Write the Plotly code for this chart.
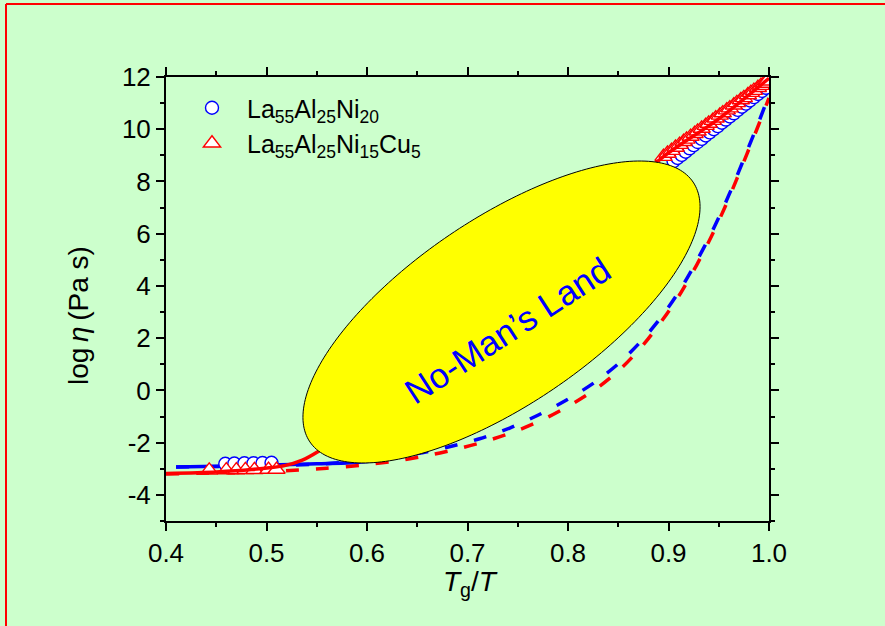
import numpy as np
import plotly.graph_objects as go

# ---------------- data ----------------
# La55Al25Ni20 measured viscosities (open circles)
ni20_x = [0.459, 0.468, 0.478, 0.487, 0.496, 0.505,
          0.905, 0.909, 0.913, 0.917, 0.921, 0.925, 0.929, 0.933, 0.937, 0.941,
          0.945, 0.949, 0.953, 0.957, 0.961, 0.965, 0.969, 0.973, 0.977, 0.981,
          0.985, 0.989, 0.993, 0.997]
ni20_y = [-2.81, -2.80, -2.79, -2.79, -2.78, -2.77,
          8.78, 8.90, 9.02, 9.14, 9.27, 9.39, 9.51, 9.63, 9.76, 9.88,
          10.00, 10.12, 10.25, 10.37, 10.49, 10.61, 10.74, 10.86, 10.98, 11.10,
          11.23, 11.35, 11.47, 11.59]

# La55Al25Ni15Cu5 measured viscosities (open triangles)
cu5_x = [0.443, 0.460, 0.470, 0.479, 0.488, 0.502, 0.510,
         0.895, 0.899, 0.903, 0.907, 0.911, 0.915, 0.918, 0.922, 0.926, 0.929,
         0.933, 0.937, 0.940, 0.944, 0.947, 0.951, 0.954, 0.958, 0.961, 0.965,
         0.968, 0.972, 0.975, 0.979, 0.982, 0.985, 0.989, 0.992, 0.995, 0.998]
cu5_y = [-3.06, -3.05, -3.05, -3.04, -3.04, -3.03, -3.03,
         8.95, 9.07, 9.18, 9.30, 9.41, 9.52, 9.61, 9.72, 9.83, 9.92,
         10.03, 10.14, 10.22, 10.33, 10.42, 10.53, 10.62, 10.73, 10.81, 10.92,
         11.01, 11.12, 11.20, 11.31, 11.40, 11.48, 11.59, 11.67, 11.75, 11.84]

# solid fit curves
ni20_fit_x = [0.41, 0.45, 0.50, 0.55, 0.60, 0.65, 0.70, 0.75, 0.80, 0.85, 0.88, 0.905, 0.93, 0.96, 1.0]
ni20_fit_y = [-2.93, -2.90, -2.86, -2.81, -2.72, -2.30, -1.20, 0.60, 3.00, 5.70, 7.30, 8.65, 9.45, 10.45, 11.95]
cu5_fit_x = [0.40, 0.45, 0.485, 0.518, 0.535, 0.551, 0.60, 0.65, 0.70, 0.75, 0.80, 0.85, 0.895, 0.95, 1.0]
cu5_fit_y = [-3.18, -3.12, -3.03, -2.88, -2.68, -2.35, -1.00, 0.60, 2.30, 4.00, 5.70, 7.40, 8.95, 10.40, 11.95]

# dashed curves
ni20_dash_x = [0.41, 0.50, 0.557, 0.60, 0.65, 0.683, 0.712, 0.742, 0.771, 0.799, 0.827, 0.853,
               0.875, 0.895, 0.912, 0.928, 0.943, 0.956, 0.968, 0.978, 0.990, 1.0]
ni20_dash_y = [-2.93, -2.89, -2.81, -2.68, -2.42, -2.15, -1.85, -1.44, -0.93, -0.36, 0.32, 1.12,
               1.98, 2.92, 3.88, 4.95, 6.05, 7.12, 8.20, 9.15, 10.30, 11.30]
cu5_dash_x = [0.40, 0.50, 0.532, 0.560, 0.593, 0.629, 0.657, 0.688, 0.717, 0.748, 0.777, 0.805,
              0.830, 0.853, 0.875, 0.895, 0.912, 0.928, 0.943, 0.956, 0.968, 0.978, 0.990, 1.0]
cu5_dash_y = [-3.20, -3.11, -3.05, -2.98, -2.87, -2.70, -2.52, -2.26, -1.96, -1.56, -1.08, -0.50,
              0.12, 0.85, 1.75, 2.75, 3.72, 4.80, 5.92, 7.00, 8.10, 9.05, 10.20, 11.20]

x_ticks = [0.4, 0.5, 0.6, 0.7, 0.8, 0.9, 1.0]
y_ticks = [-4, -2, 0, 2, 4, 6, 8, 10, 12]

# ---------------- layout constants ----------------
W, H = 885, 626
ML, MR, MT, MB = 166, 116, 77, 105
PW, PH = W - ML - MR, H - MT - MB
X0, X1 = 0.4, 1.0
Y0, Y1 = -5, 12
BG = "#CCFFCC"
FONT = "Liberation Sans, Arial, sans-serif"
BLUE = "#0000FF"
RED = "#FF0000"


def px2data(px, py):
    return X0 + (px - ML) / PW * (X1 - X0), Y1 - (py - MT) / PH * (Y1 - Y0)


def px2paper(px, py):
    return (px - ML) / PW, 1 - (py - MT) / PH


fig = go.Figure()

dash_pat = "13px,17px"
fig.add_trace(go.Scatter(x=ni20_fit_x, y=ni20_fit_y, mode="lines", showlegend=False,
                         line=dict(color=BLUE, width=3.5, shape="spline", smoothing=0.8)))
fig.add_trace(go.Scatter(x=ni20_dash_x, y=ni20_dash_y, mode="lines", showlegend=False,
                         line=dict(color=BLUE, width=3.5, dash=dash_pat, shape="spline", smoothing=0.8)))
fig.add_trace(go.Scatter(x=cu5_dash_x, y=cu5_dash_y, mode="lines", showlegend=False,
                         line=dict(color=RED, width=3.5, dash=dash_pat, shape="spline", smoothing=0.8)))
fig.add_trace(go.Scatter(x=ni20_x, y=ni20_y, mode="markers", name="La<sub>55</sub>Al<sub>25</sub>Ni<sub>20</sub>",
                         legendgroup="a",
                         marker=dict(symbol="circle", size=13, color="white", line=dict(color=BLUE, width=1.4))))
fig.add_trace(go.Scatter(x=cu5_x, y=cu5_y, mode="markers",
                         name="La<sub>55</sub>Al<sub>25</sub>Ni<sub>15</sub>Cu<sub>5</sub>",
                         legendgroup="b",
                         marker=dict(symbol="triangle-up", size=15, color="white", line=dict(color=RED, width=1.4))))
fig.add_trace(go.Scatter(x=cu5_fit_x, y=cu5_fit_y, mode="lines", showlegend=False,
                         line=dict(color=RED, width=3.5, shape="spline", smoothing=0.8)))

# ---------------- "No-Man's Land" ellipse ----------------
E_CX, E_CY, E_A, E_B, E_ANG = 501.5, 312.0, 231.5, 92.9, np.radians(34.15)
t = np.linspace(0, 2 * np.pi, 241)
epx = E_CX + E_A * np.cos(t) * np.cos(E_ANG) - E_B * np.sin(t) * np.sin(E_ANG)
epy = E_CY - (E_A * np.cos(t) * np.sin(E_ANG) + E_B * np.sin(t) * np.cos(E_ANG))
pts = [px2data(a, b) for a, b in zip(epx, epy)]
path = "M " + " L ".join(f"{a:.5f},{b:.4f}" for a, b in pts) + " Z"
fig.add_shape(type="path", path=path, xref="x", yref="y", layer="above",
              fillcolor="#FFFF00", line=dict(color="black", width=1))

tx, ty = px2data(507, 330)
fig.add_annotation(x=tx, y=ty, xref="x", yref="y", text="No-Man\u2019s Land", showarrow=False,
                   textangle=-33, font=dict(family=FONT, size=35, color=BLUE))

# axis titles
ax, ay = px2paper(78, 316)
fig.add_annotation(x=ax, y=ay, xref="paper", yref="paper", text="log\u2009<i>\u03b7</i>\u2009(Pa s)",
                   showarrow=False, textangle=-90, xanchor="center", yanchor="middle",
                   font=dict(family=FONT, size=28, color="black"))
bx, by = px2paper(470, 583)
fig.add_annotation(x=bx, y=by, xref="paper", yref="paper", text="<i>T</i><sub>g</sub>/<i>T</i>",
                   showarrow=False, xanchor="center", yanchor="middle",
                   font=dict(family=FONT, size=28, color="black"))

# red frame (left and top edges visible in the reference)
fxl, fyt = px2paper(6, 4)
fxr, fyb = px2paper(W + 10, H + 10)
fig.add_shape(type="line", xref="paper", yref="paper", x0=fxl, y0=fyb, x1=fxl, y1=fyt,
              line=dict(color=RED, width=2), layer="above")
fig.add_shape(type="line", xref="paper", yref="paper", x0=fxl, y0=fyt, x1=fxr, y1=fyt,
              line=dict(color=RED, width=2), layer="above")

axis_common = dict(showline=True, linecolor="black", linewidth=2, mirror="ticks",
                   ticks="outside", ticklen=8, tickwidth=2, tickcolor="black",
                   showgrid=False, zeroline=False,
                   tickfont=dict(family=FONT, size=26, color="black"))
lx, ly = px2paper(177, 85)
fig.update_layout(
    width=W, height=H,
    margin=dict(l=ML, r=MR, t=MT, b=MB),
    paper_bgcolor=BG, plot_bgcolor=BG,
    xaxis=dict(range=[X0, X1], tickvals=x_ticks, ticktext=[f"{v:.1f}" for v in x_ticks],
               minor=dict(dtick=0.05, tick0=0.4, ticks="outside", ticklen=4, tickwidth=2, tickcolor="black"),
               **axis_common),
    yaxis=dict(range=[Y0, Y1], tickvals=y_ticks, ticktext=[str(v) for v in y_ticks],
               minor=dict(dtick=1, tick0=0, ticks="outside", ticklen=4, tickwidth=2, tickcolor="black"),
               **axis_common),
    legend=dict(x=lx, y=ly, xanchor="left", yanchor="top", bgcolor="rgba(0,0,0,0)",
                font=dict(family=FONT, size=25, color="black"), itemwidth=60,
                tracegroupgap=0),
    showlegend=True,
)

fig.write_html("out.html")
